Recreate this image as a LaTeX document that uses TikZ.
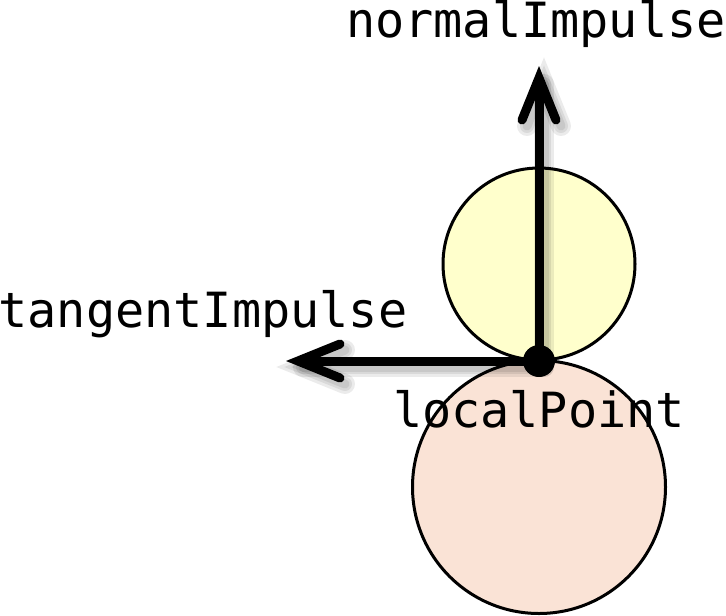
\documentclass[tikz,border=0pt]{standalone}
\usepackage{fontspec}
\setmonofont{DejaVu Sans Mono}
\usetikzlibrary{calc}
\definecolor{ballyellow}{HTML}{FFFFCC}
\definecolor{ballpink}{HTML}{FAE3D6}
\tikzset{
  ball/.style={circle, draw=black, line width=3pt, inner sep=0pt},
  vec/.style={line width=9pt, black},
  barb/.style={line width=9pt, black, line cap=round, line join=miter},
  shade/.style={line width=#1, black, opacity=0.08, line cap=round},
  lbl/.style={font=\ttfamily\fontsize{48.5}{50}\selectfont, inner sep=0pt, anchor=base},
  dot/.style={circle, fill=black, minimum size=32pt, inner sep=0pt}
}
\begin{document}
\begin{tikzpicture}[x=1pt,y=-1pt]
\useasboundingbox (0,0) rectangle (726,616);
% balls
\node[ball, fill=ballpink, minimum size=253pt] (lower) at (539,487) {};
\node[ball, fill=ballyellow, minimum size=192pt] (upper) at (539,264) {};
% contact point and arrow ends
\coordinate (cp) at (539,361);
\coordinate (ntip) at (539,78);
\coordinate (ttip) at (298,361);
% shadows
\foreach \w in {20pt,14pt,9pt}{
  \draw[shade=\w] ($(cp)+(5,6)$) -- ($(ntip)+(5,6)$);
  \draw[shade=\w] ($(ntip)+(-17,42)+(5,6)$) -- ($(ntip)+(5,6)$) -- ($(ntip)+(17,42)+(5,6)$);
  \draw[shade=\w] ($(cp)+(5,6)$) -- ($(ttip)+(5,6)$);
  \draw[shade=\w] ($(ttip)+(42,-17)+(5,6)$) -- ($(ttip)+(5,6)$) -- ($(ttip)+(42,17)+(5,6)$);
}
% vectors
\draw[vec] (cp) -- ($(ntip)+(0,4)$);
\draw[barb] ($(ntip)+(-17,42)$) -- (ntip) -- ($(ntip)+(17,42)$);
\draw[vec] (cp) -- ($(ttip)+(4,0)$);
\draw[barb] ($(ttip)+(42,-17)$) -- (ttip) -- ($(ttip)+(42,17)$);
\node[dot] (cpdot) at (cp) {};
% labels
\node[lbl] (nlabel) at (536,37) {normalImpulse};
\node[lbl] (tlabel) at (203,327) {tangentImpulse};
\node[lbl] (plabel) at (539,427) {localPoint};
\end{tikzpicture}
\end{document}
